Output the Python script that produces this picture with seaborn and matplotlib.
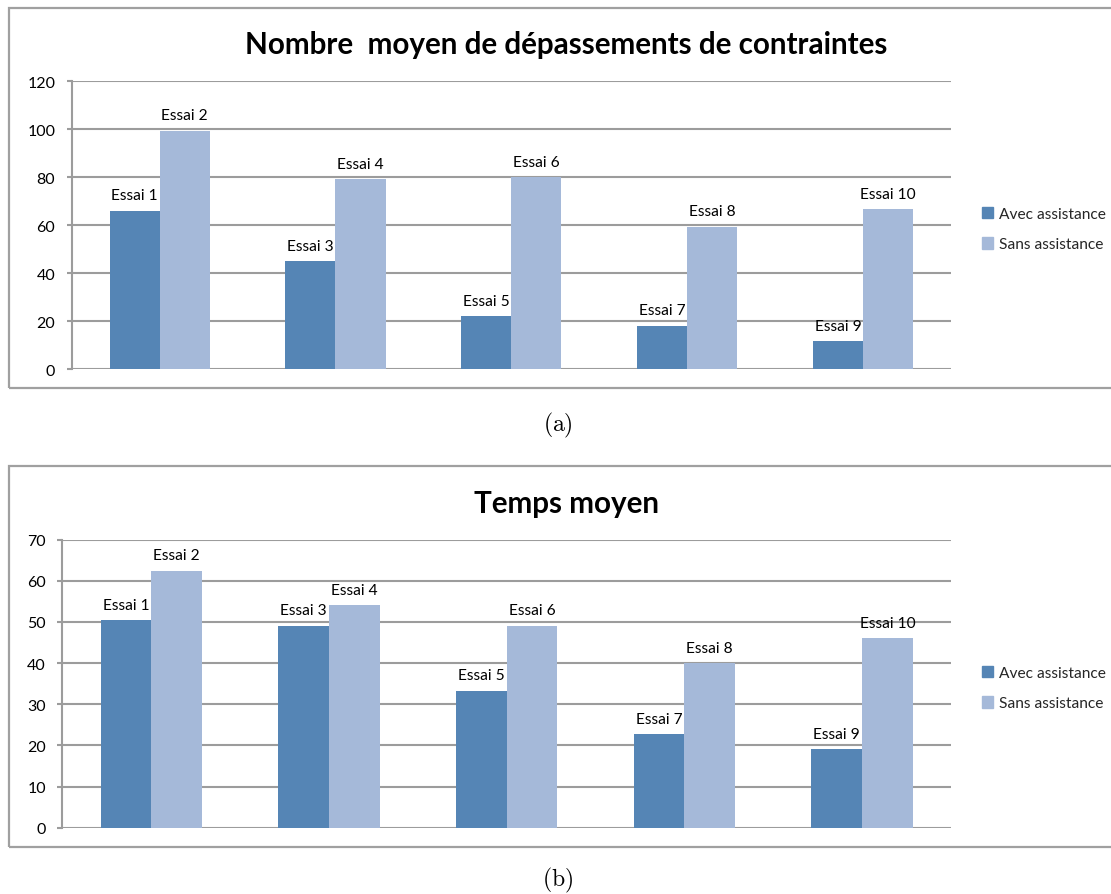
import matplotlib
matplotlib.use("Agg")
import matplotlib.pyplot as plt
from matplotlib.patches import Rectangle
import pandas as pd
import seaborn as sns

# Series values read per group (five groups of paired trials)
series = ["Avec assistance", "Sans assistance"]
avec_depassements = [66, 45, 22, 18, 11.5]
sans_depassements = [99.3, 79, 80, 59.3, 66.5]
avec_temps = [50.4, 49.1, 33.3, 22.8, 19.1]
sans_temps = [62.5, 54.1, 49.1, 40.0, 46.0]
groups = ["G1", "G2", "G3", "G4", "G5"]
labels_avec = ["Essai 1", "Essai 3", "Essai 5", "Essai 7", "Essai 9"]
labels_sans = ["Essai 2", "Essai 4", "Essai 6", "Essai 8", "Essai 10"]
titles = ["Nombre  moyen de dépassements de contraintes", "Temps moyen"]
captions = ["(a)", "(b)"]
yticks_top = [0, 20, 40, 60, 80, 100, 120]
yticks_bottom = [0, 10, 20, 30, 40, 50, 60, 70]

COL_AVEC = "#5585B5"
COL_SANS = "#A5B9D9"
GRID = "#9C9C9C"
FONT = "Lato"

sns.set_theme(style="white")
plt.rcParams["font.family"] = [FONT, "DejaVu Sans"]
plt.rcParams["mathtext.fontset"] = "cm"

W, H = 1111, 895
fig = plt.figure(figsize=(W / 100, H / 100), dpi=100)


def fx(px):
    return px / W


def fy(py):
    return 1 - py / H


def long_frame(avec, sans):
    return pd.DataFrame({
        "groupe": groups * 2,
        "serie": [series[0]] * len(groups) + [series[1]] * len(groups),
        "valeur": list(avec) + list(sans),
    })


def panel(box, frame, avec, sans, ymax, yticks, title, title_y, caption, cap_y, leg_y):
    # outer frame of the chart object
    fx0, fy0, fx1, fy1 = frame
    fig.add_artist(Rectangle((fx(fx0), fy(fy1)), fx(fx1 - fx0), fy(fy0) - fy(fy1),
                             transform=fig.transFigure, fill=False,
                             edgecolor="#A0A0A0", linewidth=1.6))
    left, top, right, bottom = box
    ax = fig.add_axes([fx(left), fy(bottom), fx(right - left), fy(top) - fy(bottom)])
    df = long_frame(avec, sans)
    sns.barplot(data=df, x="groupe", y="valeur", hue="serie", ax=ax,
                palette=[COL_AVEC, COL_SANS], width=0.57, gap=0,
                saturation=1, linewidth=0, legend=False)
    ax.set_ylim(0, ymax)
    ax.set_xlim(-0.5, len(groups) - 0.5)
    ax.set_yticks(yticks)
    ax.set_xticks([])
    ax.set_xlabel("")
    ax.set_ylabel("")
    ax.yaxis.grid(True, color=GRID, linewidth=1.5)
    ax.set_axisbelow(True)
    for s in ["top", "right", "bottom"]:
        ax.spines[s].set_visible(False)
    ax.spines["left"].set_color(GRID)
    ax.spines["left"].set_linewidth(1.5)
    ax.tick_params(axis="y", which="major", left=True, length=3.8, width=1.5,
                   color=GRID, pad=8, labelsize=11.5, labelcolor="black")
    for c, labs in zip(ax.containers, [labels_avec, labels_sans]):
        ax.bar_label(c, labels=labs, padding=6, fontsize=11.2, color="black")
    fig.text(fx(566), fy(title_y), title, ha="center", va="center",
             fontsize=21.3, fontweight="bold", color="black")
    fig.text(fx(558), fy(cap_y), r"$\mathrm{" + caption + "}$", ha="center",
             va="center", fontsize=17, color="black")
    handles = [Rectangle((0, 0), 1, 1, color=COL_AVEC), Rectangle((0, 0), 1, 1, color=COL_SANS)]
    fig.legend(handles, series, loc="upper left",
               bbox_to_anchor=(fx(974), fy(leg_y)), frameon=False,
               fontsize=11.2, handlelength=0.75, handleheight=0.75,
               handletextpad=0.35, labelspacing=1.05, borderpad=0)
    return ax


panel((71.7, 82, 951, 370), (9, 9, 1125, 389), avec_depassements, sans_depassements,
      120, yticks_top, titles[0], 45, captions[0], 425, 200)
panel((62.3, 540.7, 951, 828.7), (9, 467, 1125, 848), avec_temps, sans_temps,
      70, yticks_bottom, titles[1], 504, captions[1], 880, 659)

fig.savefig("out.png", dpi=100)
